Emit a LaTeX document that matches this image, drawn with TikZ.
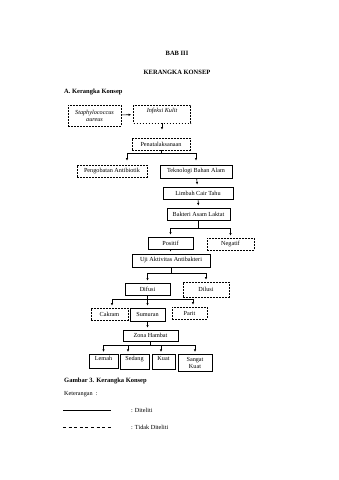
\documentclass[tikz,border=0pt]{standalone}
\usepackage{fontspec}
\setmainfont{Liberation Serif}
\usetikzlibrary{arrows.meta}

\begin{document}
\begin{tikzpicture}[x=1pt, y=-1pt,
    >={Latex[length=2.6pt,width=2.4pt]},
    every node/.style={font=\fontsize{6.2}{7}\selectfont},
    box/.style={draw, line width=0.8pt, inner sep=0pt, align=center},
    dbox/.style={draw, line width=0.6pt, dash pattern=on 1.8pt off 1.2pt, inner sep=0pt, align=center},
    lowbox/.style={box, anchor=north, inner ysep=1.2pt},
    conn/.style={line width=0.6pt},
    arr/.style={conn, ->, shorten >=2pt}]
    \useasboundingbox (0,0) rectangle (339,480);

    \node[font=\fontsize{6.5}{7.5}\selectfont\bfseries] (bab) at (177,53) {BAB III};
    \node[font=\fontsize{6.5}{7.5}\selectfont\bfseries] (judul) at (177,72) {KERANGKA KONSEP};
    \node[font=\fontsize{6.5}{7.5}\selectfont\bfseries, anchor=west, inner sep=0pt] (subjudul) at (64,92) {A. Kerangka Konsep};

    \node[dbox, minimum width=53, minimum height=21] (staph) at (94.5,115.5) {\itshape Staphylococcus\\ \itshape aureus};
    \node[dbox, minimum width=57, minimum height=18] (infeksi) at (162,114) {\itshape Infeksi Kulit\\[1pt]~};
    \node[dbox, minimum width=58, minimum height=12] (penata) at (161,144) {Penatalaksanaan};
    \node[dbox, minimum width=70, minimum height=12] (pengobatan) at (112,171) {Pengobatan Antibiotik};
    \node[box, minimum width=72, minimum height=13] (tekno) at (196,171.5) {Teknologi Bahan Alam};
    \node[box, minimum width=70, minimum height=12] (limbah) at (198,193) {Limbah Cair Tahu};
    \node[box, minimum width=63, minimum height=12] (bakteri) at (198.5,214) {Bakteri Asam Laktat};
    \node[box, minimum width=45, minimum height=12] (positif) at (170.5,243) {Positif};
    \node[dbox, minimum width=47, minimum height=12] (negatif) at (230.5,244) {Negatif};
    \node[box, minimum width=78, minimum height=13] (uji) at (171,260.5) {Uji Aktivitas Antibakteri};
    \node[box, minimum width=45, minimum height=12] (difusi) at (147.5,289) {Difusi};
    \node[dbox, minimum width=46, minimum height=15] (dilusi) at (206,289.5) {Dilusi};
    \node[dbox, minimum width=37, minimum height=12] (cakram) at (109.5,314) {Cakram};
    \node[box, minimum width=35, minimum height=13] (sumuran) at (147.5,314.5) {Sumuran};
    \node[dbox, minimum width=35, minimum height=12] (parit) at (189.5,313) {Parit};
    \node[box, minimum width=55, minimum height=11] (zona) at (150.5,335.5) {Zona Hambat};
    \node[lowbox, minimum width=29, minimum height=14] (lemah) at (103.5,354) {Lemah\\[0pt]~};
    \node[lowbox, minimum width=29, minimum height=15] (sedang) at (134.5,354) {Sedang\\[0pt]~};
    \node[lowbox, minimum width=23, minimum height=15] (kuat) at (163.5,354) {Kuat\\[0pt]~};
    \node[lowbox, minimum width=34, minimum height=17] (sangat) at (195,354) {Sangat\\ Kuat};

    \draw[arr] (staph) -- (infeksi);
    \draw[arr, shorten >=8pt] (infeksi) -- (infeksi |- penata.north);

    \path (penata.south) ++(0,3) coordinate (ps);
    \draw[conn] (penata.south) -- (ps);
    \draw[arr, shorten >=4pt] (ps) -| ([xshift=15pt]pengobatan.north);
    \draw[arr, shorten >=4pt] (ps) -| (tekno.north);

    \draw[arr] (tekno) -- (limbah);
    \draw[arr] (limbah) -- (bakteri);

    \path (bakteri.south) ++(0,7.5) coordinate (bs);
    \draw[conn] (bakteri.south) -- (bs);
    \draw[arr] (bs) -| (positif.north);
    \draw[arr] (bs) -| (negatif.north);

    \draw[arr] (positif) -- (positif |- uji.north);

    \path (uji.south) ++(0,6) coordinate (us);
    \draw[conn] (uji.south) -- (us);
    \draw[arr] (us) -| (difusi.north);
    \draw[arr] (us) -| (dilusi.north);

    \path (difusi.south) ++(0,3.5) coordinate (ds);
    \draw[conn] (difusi.south) -- (ds);
    \draw[arr] (ds) -| ([xshift=2.5pt]cakram.north);
    \draw[arr] (ds) -| (sumuran.north);
    \draw[arr] (ds) -| ([xshift=3.5pt]parit.north);

    \draw[arr] (sumuran) -- (sumuran |- zona.north);

    \path (zona.south) ++(0,4) coordinate (zs);
    \draw[conn] (zona.south) -- (zs);
    \draw[arr] (zs) -| (lemah.north);
    \draw[arr] (zs) -| ([xshift=-6.5pt]sedang.north);
    \draw[arr] (zs) -| ([xshift=-2.5pt]kuat.north);
    \draw[arr] (zs) -| (sangat.north);

    \node[font=\fontsize{6.5}{7.5}\selectfont\bfseries, anchor=west, inner sep=0pt] (gambar) at (64,381) {Gambar 3. Kerangka Konsep};
    \node[anchor=west, inner sep=0pt] (ket) at (64,394) {Keterangan\ \ :};

    \coordinate (l1a) at (63,410);
    \coordinate (l1b) at (111,410);
    \coordinate (l2a) at (63,427);
    \coordinate (l2b) at (111,427);
    \draw[line width=0.9pt] (l1a) -- (l1b);
    \draw[line width=0.9pt, dash pattern=on 3pt off 2.6pt] (l2a) -- (l2b);
    \node[anchor=west, inner sep=0pt] (diteliti) at (131,410) {: Diteliti};
    \node[anchor=west, inner sep=0pt] (tidak) at (131,427) {: Tidak Diteliti};
\end{tikzpicture}
\end{document}
